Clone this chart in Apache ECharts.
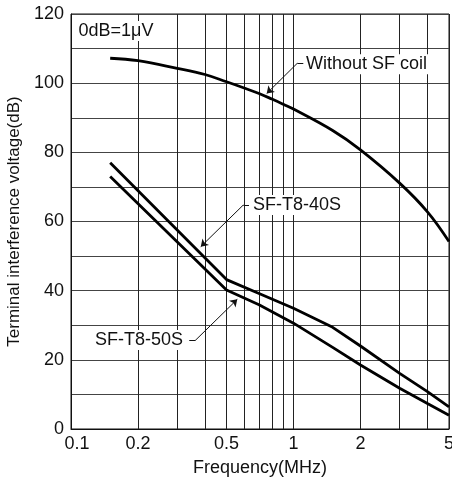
<!DOCTYPE html>
<html><head><meta charset="utf-8">
<script src="https://cdn.jsdelivr.net/npm/echarts@6/dist/echarts.min.js"></script>
<style>html,body{margin:0;padding:0;background:#fff}#c{width:452px;height:481px}</style>
</head><body><div id="c"></div>
<script>
// grid / tick data
const gridFreqs = [0.1, 0.2, 0.3, 0.4, 0.5, 0.6, 0.7, 0.8, 0.9, 1, 2, 3, 4, 5];
const xTickLabels = [0.1, 0.2, 0.5, 1, 2, 5];
const yTickLabels = [0, 20, 40, 60, 80, 100, 120];

// Without SF coil
const freqNoCoil = [0.15, 0.2, 0.3, 0.4, 0.5, 0.6, 0.7, 0.8, 0.9, 1, 1.5, 2, 3, 4, 5];
const valNoCoil  = [107.2, 106.5, 104.3, 102.5, 100.4, 98.6, 97.0, 95.4, 93.9, 92.5, 86.3, 80.7, 71.1, 62.8, 54.2];

// SF-T8-40S
const freq40S = [0.15, 0.5, 0.7, 1, 1.5, 2, 3, 4, 5];
const val40S  = [77, 43.2, 39.2, 34.9, 29.4, 24, 16.1, 10.8, 6.4];

// SF-T8-50S
const freq50S = [0.15, 0.5, 0.7, 1, 1.5, 2, 3, 4, 5];
const val50S  = [73, 40.2, 35.9, 30.6, 23.6, 18.5, 11.8, 7.4, 4.0];

const FONT = '"Liberation Sans", Arial, sans-serif';
const INK = '#111';
function pairs(xs, ys) { return xs.map((x, i) => [x, ys[i]]); }

function textPoint(coord, text, pos) {
  return {
    coord: coord, symbol: 'circle', symbolSize: 0,
    label: {
      show: true, position: pos, distance: 0, formatter: text,
      color: INK, fontSize: 18, fontFamily: FONT,
      backgroundColor: '#fff', padding: [1, 1, 1, 1]
    }
  };
}
function seg(a, b, arrow) {
  return [{ coord: a, symbol: 'none' }, { coord: b, symbol: arrow ? 'arrow' : 'none', symbolSize: 7 }];
}
const annLine = {
  silent: true, animation: false, symbol: ['none', 'none'],
  label: { show: false }, emphasis: { disabled: true },
  lineStyle: { color: INK, width: 1, type: 'solid' }
};
const annPoint = { silent: true, animation: false, emphasis: { disabled: true } };

const chart = echarts.init(document.getElementById('c'), null, { renderer: 'canvas' });
chart.setOption({
  animation: false,
  grid: {
    left: 71, right: 3, top: 14, bottom: 52, show: true, borderColor: INK, borderWidth: 1,
    containLabel: false, outerBoundsMode: 'none'
  },
  xAxis: {
    type: 'log', logBase: 10, min: 0.1, max: 5,
    axisLine: { show: true, lineStyle: { color: INK, width: 1 } },
    axisTick: { show: false, customValues: gridFreqs },
    splitLine: { show: true, lineStyle: { color: '#222', width: 1 } },
    axisLabel: {
      customValues: xTickLabels, color: INK, fontSize: 18, fontFamily: FONT, margin: 6,
      formatter: function (v) {
        const r = Math.round(v * 10) / 10;
        return r === 0.1 ? '{s|0.1}' : String(r);
      },
      rich: { s: { padding: [0, 0, 0, 12], fontSize: 18, fontFamily: FONT, color: INK } }
    },
    name: 'Frequency(MHz)', nameLocation: 'middle', nameGap: 30,
    nameTextStyle: { color: INK, fontSize: 18, fontFamily: FONT }
  },
  yAxis: {
    type: 'value', min: 0, max: 120, interval: 10,
    axisLine: { show: true, lineStyle: { color: INK, width: 1 } },
    axisTick: { show: false },
    splitLine: { show: true, lineStyle: { color: '#444', width: 1 } },
    axisLabel: {
      customValues: yTickLabels, color: INK, fontSize: 18, fontFamily: FONT, margin: 7
    },
    name: 'Terminal interference voltage(dB)', nameLocation: 'middle', nameGap: 46,
    nameTextStyle: { color: INK, fontSize: 17, fontFamily: FONT }
  },
  series: [
    {
      name: 'Without SF coil', type: 'line', data: pairs(freqNoCoil, valNoCoil),
      symbol: 'none', smooth: 0.4, lineStyle: { color: '#000', width: 2.8 },
      markLine: Object.assign({}, annLine, {
        data: [
          seg([1.107, 105.75], [1.040, 105.75], false),
          seg([1.040, 105.75], [0.758, 97.0], true)
        ]
      }),
      markPoint: Object.assign({}, annPoint, {
        data: [
          textPoint([1.127, 105.5], 'Without SF coil', 'right'),
          textPoint([0.107, 115.1], '0dB=1\u03bcV', 'right')
        ]
      })
    },
    {
      name: 'SF-T8-40S', type: 'line', data: pairs(freq40S, val40S),
      symbol: 'none', lineStyle: { color: '#000', width: 2.8 },
      markLine: Object.assign({}, annLine, {
        data: [
          seg([0.631, 64.78], [0.595, 64.78], false),
          seg([0.595, 64.78], [0.383, 52.72], true)
        ]
      }),
      markPoint: Object.assign({}, annPoint, {
        data: [ textPoint([0.651, 64.8], 'SF-T8-40S', 'right') ]
      })
    },
    {
      name: 'SF-T8-50S', type: 'line', data: pairs(freq50S, val50S),
      symbol: 'none', lineStyle: { color: '#000', width: 2.8 },
      markLine: Object.assign({}, annLine, {
        data: [
          seg([0.340, 25.54], [0.361, 25.54], false),
          seg([0.361, 25.54], [0.559, 37.5], true)
        ]
      }),
      markPoint: Object.assign({}, annPoint, {
        data: [ textPoint([0.322, 25.7], 'SF-T8-50S', 'left') ]
      })
    }
  ]
});
</script>
</body></html>
